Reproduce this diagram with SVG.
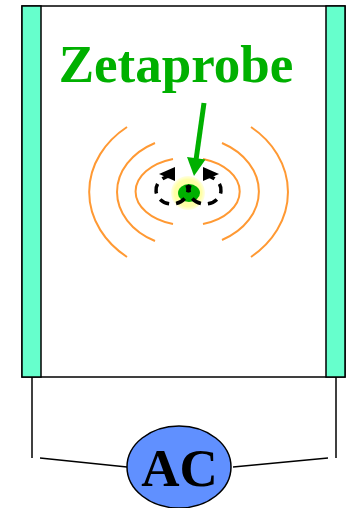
<svg xmlns="http://www.w3.org/2000/svg" width="348" height="508" viewBox="0 0 348 508">
  <style>
    .frame { fill: #ffffff; stroke: #000000; stroke-width: 1.5; }
    .electrode { fill: #66FFCC; stroke: #000000; stroke-width: 1.5; }
    .wire { fill: none; stroke: #000000; stroke-width: 1.5; }
    .field { fill: none; stroke: #FF9933; stroke-width: 2; }
    .flow { fill: none; stroke: #000000; stroke-width: 3.5; stroke-dasharray: 10 7; }
    .label { font-family: "Liberation Serif", "Times New Roman", serif; font-weight: bold; text-anchor: middle; }
  </style>
  <defs>
    <radialGradient id="glow" cx="0.5" cy="0.5" r="0.5">
      <stop offset="0" stop-color="#FFFF99"/>
      <stop offset="0.8" stop-color="#FFFFA8"/>
      <stop offset="1" stop-color="#FFFFCC" stop-opacity="0.6"/>
    </radialGradient>
  </defs>

  <!-- measurement cell -->
  <g id="cell">
    <rect class="frame" x="22" y="6" width="323" height="371"/>
  </g>
  <g id="electrode-left">
    <rect class="electrode" x="22" y="6" width="19" height="371"/>
  </g>
  <g id="electrode-right">
    <rect class="electrode" x="326" y="6" width="19" height="371"/>
  </g>

  <!-- oscillating field lines -->
  <g id="field-lines">
    <path class="field" d="M173,159 A53 34 0 0 0 173,224"/>
    <path class="field" d="M203,159 A52 34 0 0 1 203,224"/>
    <path class="field" d="M155,143 A72 55.6 0 0 0 155,241"/>
    <path class="field" d="M222,143 A71 55.3 0 0 1 222,240"/>
    <path class="field" d="M127,127 A100 83 0 0 0 127,257"/>
    <path class="field" d="M251,127 A99 83.4 0 0 1 251,257"/>
  </g>

  <!-- probe particle -->
  <g id="probe">
    <circle cx="188" cy="193" r="17" fill="url(#glow)"/>
    <ellipse cx="189" cy="193" rx="11" ry="9" fill="#00B000"/>
  </g>

  <!-- circulating flow around the particle -->
  <g id="flow-loops">
    <path class="flow" d="M172,176 A16 14 0 1 0 187,185.2"/>
    <polygon points="159,174 175,167 175,181" fill="#000000"/>
    <path class="flow" d="M205,176 A16 14 0 1 1 190,185.2"/>
    <polygon points="219,174 203,167 203,181" fill="#000000"/>
  </g>

  <!-- title with pointer -->
  <g id="title">
    <text class="label" x="176" y="82" font-size="53" fill="#00B000">Zetaprobe</text>
    <line x1="204" y1="103" x2="196" y2="160" stroke="#00B000" stroke-width="5"/>
    <polygon points="187,157 205.5,159.5 194,176" fill="#00B000"/>
  </g>

  <!-- circuit wiring -->
  <g id="connectors">
    <line class="wire" x1="32" y1="377" x2="32" y2="458"/>
    <line class="wire" x1="336" y1="377" x2="336" y2="458"/>
    <line class="wire" x1="40" y1="458" x2="127" y2="467"/>
    <line class="wire" x1="233" y1="467" x2="328" y2="458"/>
  </g>

  <!-- AC source -->
  <g id="ac-source">
    <ellipse cx="179" cy="467" rx="52" ry="41" fill="#6090FF" stroke="#000000" stroke-width="1.5"/>
    <text class="label" x="179.5" y="486" font-size="53" fill="#000000">AC</text>
  </g>
</svg>
